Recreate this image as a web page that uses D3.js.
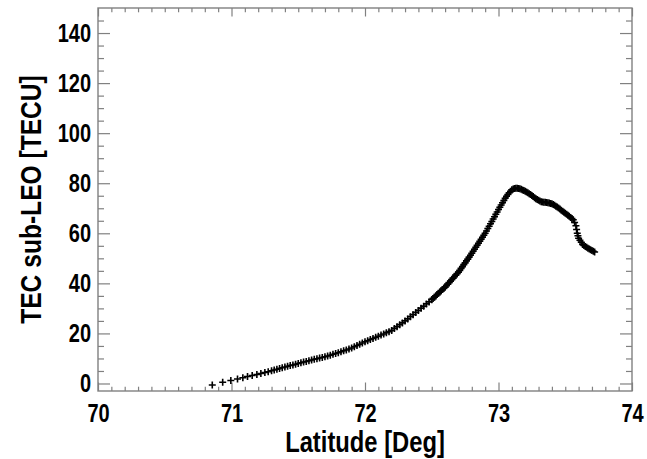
<!DOCTYPE html>
<html>
<head>
<meta charset="utf-8">
<script src="https://cdn.jsdelivr.net/npm/d3@7"></script>
<style>
  html, body { margin: 0; padding: 0; background: #fff; }
  svg { display: block; }
  .tick-label { font-family: "Liberation Sans", Arial, sans-serif; font-weight: bold; font-size: 25px; fill: #000; }
  .axis-title { font-family: "Liberation Sans", Arial, sans-serif; font-weight: bold; font-size: 29px; fill: #000; }
</style>
</head>
<body>
<div id="chart"></div>
<script>
// latitude [deg] of each sample
const latitude = [
  70.856, 70.934, 70.995, 71.045, 71.085, 71.12, 71.155, 71.19, 71.22, 71.25, 71.275,
  71.30, 71.32, 71.34, 71.36, 71.38, 71.40, 71.42, 71.44, 71.46, 71.48,
  71.50, 71.52, 71.54, 71.56, 71.58, 71.60, 71.62, 71.64, 71.66, 71.68,
  71.70, 71.72, 71.74, 71.76, 71.78, 71.80, 71.82, 71.84, 71.86, 71.88,
  71.90, 71.92, 71.94, 71.96, 71.98, 72.00, 72.02, 72.04, 72.06, 72.08,
  72.10, 72.12, 72.14, 72.16, 72.18, 72.20, 72.22, 72.24, 72.26, 72.28,
  72.30, 72.32, 72.34, 72.36, 72.38, 72.40, 72.42, 72.44, 72.46, 72.48,
  72.50, 72.51, 72.52, 72.53, 72.54, 72.55, 72.56, 72.57, 72.58, 72.59,
  72.60, 72.61, 72.62, 72.63, 72.64, 72.65, 72.66, 72.67, 72.68, 72.69,
  72.70, 72.71, 72.72, 72.73, 72.74, 72.75, 72.76, 72.77, 72.78, 72.79,
  72.80, 72.81, 72.82, 72.83, 72.84, 72.85, 72.86, 72.87, 72.88, 72.89,
  72.90, 72.91, 72.92, 72.93, 72.94, 72.95, 72.96, 72.97, 72.98, 72.99,
  73.00, 73.01, 73.02, 73.03, 73.04, 73.05, 73.06, 73.07, 73.08, 73.09,
  73.10, 73.11, 73.12, 73.13, 73.14, 73.15, 73.16, 73.17, 73.18, 73.19,
  73.20, 73.21, 73.22, 73.23, 73.24, 73.25, 73.26, 73.27, 73.28, 73.29,
  73.30, 73.31, 73.32, 73.33, 73.34, 73.35, 73.36, 73.37, 73.38, 73.39,
  73.40, 73.41, 73.42, 73.43, 73.44, 73.45, 73.46, 73.47, 73.48, 73.49,
  73.50, 73.51, 73.52, 73.53, 73.54, 73.55, 73.56, 73.57, 73.58, 73.585,
  73.59, 73.595, 73.60, 73.61, 73.62, 73.63, 73.64, 73.65, 73.66, 73.67,
  73.68, 73.69, 73.70, 73.71, 73.72
];

// TEC sub-LEO [TECU] at those samples
const tec = [
  -0.6, 0.5, 1.2, 1.8, 2.3, 2.8, 3.2, 3.6, 4.0, 4.4, 4.7,
  5.1, 5.4, 5.7, 6.0, 6.3, 6.6, 6.9, 7.2, 7.4, 7.7,
  8.0, 8.3, 8.6, 8.8, 9.1, 9.4, 9.7, 9.9, 10.2, 10.4,
  10.7, 11.0, 11.3, 11.7, 12.0, 12.3, 12.7, 13.1, 13.4, 13.8,
  14.2, 14.7, 15.2, 15.7, 16.2, 16.7, 17.1, 17.6, 18.0, 18.5,
  18.9, 19.4, 19.8, 20.3, 20.7, 21.2, 22.0, 22.7, 23.5, 24.2,
  25.0, 25.8, 26.7, 27.5, 28.4, 29.2, 30.1, 30.9, 31.8, 32.6,
  33.5, 34.0, 34.5, 35.0, 35.5, 36.0, 36.5, 37.0, 37.5, 38.0,
  38.5, 39.1, 39.7, 40.3, 40.9, 41.5, 42.1, 42.7, 43.3, 43.9,
  44.5, 45.2, 46.0, 46.7, 47.5, 48.2, 49.0, 49.7, 50.5, 51.2,
  52.0, 52.8, 53.6, 54.4, 55.2, 56.0, 56.8, 57.6, 58.4, 59.2,
  60.0, 60.9, 61.9, 62.8, 63.8, 64.7, 65.7, 66.6, 67.6, 68.5,
  69.5, 70.4, 71.3, 72.2, 73.1, 74.0, 74.8, 75.5, 76.2, 76.8,
  77.4, 77.7, 77.9, 78.0, 78.0, 77.9, 77.8, 77.6, 77.3, 77.1,
  76.8, 76.5, 76.2, 75.8, 75.5, 75.1, 74.7, 74.2, 73.8, 73.5,
  73.2, 72.9, 72.6, 72.5, 72.4, 72.4, 72.3, 72.2, 72.1, 71.9,
  71.8, 71.5, 71.2, 70.8, 70.5, 70.1, 69.7, 69.2, 68.8, 68.4,
  68.0, 67.6, 67.2, 66.8, 66.3, 65.9, 65.4, 64.3, 63.0, 61.5,
  60.0, 59.0, 58.0, 57.2, 56.4, 55.5, 55.1, 54.7, 54.4, 54.0,
  53.7, 53.4, 53.1, 52.8, 52.5
];

const xMajorTicks = [70, 71, 72, 73, 74];
const yMajorTicks = [0, 20, 40, 60, 80, 100, 120, 140];

const width = 647;
const height = 459;
const plot = { left: 98, right: 632, top: 8, bottom: 391 };
const frameColor = "#808080";
const narrow = 0.8; // no narrow font installed, squeeze Liberation Sans instead

const x = d3.scaleLinear().domain([70, 74]).range([plot.left, plot.right]);
const y = d3.scaleLinear().domain([-3, 150]).range([plot.bottom, plot.top]);

const xMinorTicks = d3.range(701, 740).map((v) => v / 10).filter((v) => v % 1 !== 0);
const yMinorTicks = d3.range(5, 150, 5).filter((v) => v % 20 !== 0);

const svg = d3.select("#chart").append("svg")
  .attr("width", width)
  .attr("height", height)
  .attr("viewBox", `0 0 ${width} ${height}`);

function styleAxis(g) {
  g.select(".domain").remove();
  g.selectAll(".tick line").attr("stroke", frameColor).attr("stroke-width", 1.2);
  g.selectAll(".tick text")
    .attr("class", "tick-label")
    .attr("fill", null)
    .attr("transform", `scale(${narrow},1)`);
}

// bottom axis: major ticks with labels, minor without
svg.append("g")
  .attr("transform", `translate(0,${plot.bottom})`)
  .call(d3.axisBottom(x).tickValues(xMajorTicks).tickSize(-8.5).tickPadding(13).tickFormat(d3.format("d")))
  .call(styleAxis);
svg.append("g")
  .attr("transform", `translate(0,${plot.bottom})`)
  .call(d3.axisBottom(x).tickValues(xMinorTicks).tickSize(-4.3).tickFormat(""))
  .call(styleAxis);

// top axis, ticks only
svg.append("g")
  .attr("transform", `translate(0,${plot.top})`)
  .call(d3.axisTop(x).tickValues(xMajorTicks).tickSize(-8.5).tickFormat(""))
  .call(styleAxis);
svg.append("g")
  .attr("transform", `translate(0,${plot.top})`)
  .call(d3.axisTop(x).tickValues(xMinorTicks).tickSize(-4.3).tickFormat(""))
  .call(styleAxis);

// left axis
svg.append("g")
  .attr("transform", `translate(${plot.left},0)`)
  .call(d3.axisLeft(y).tickValues(yMajorTicks).tickSize(-12).tickPadding(7 / narrow).tickFormat(d3.format("d")))
  .call(styleAxis);
svg.append("g")
  .attr("transform", `translate(${plot.left},0)`)
  .call(d3.axisLeft(y).tickValues(yMinorTicks).tickSize(-6).tickFormat(""))
  .call(styleAxis);

// right axis, ticks only
svg.append("g")
  .attr("transform", `translate(${plot.right},0)`)
  .call(d3.axisRight(y).tickValues(yMajorTicks).tickSize(-12).tickFormat(""))
  .call(styleAxis);
svg.append("g")
  .attr("transform", `translate(${plot.right},0)`)
  .call(d3.axisRight(y).tickValues(yMinorTicks).tickSize(-6).tickFormat(""))
  .call(styleAxis);

// frame
svg.append("rect")
  .attr("x", plot.left)
  .attr("y", plot.top)
  .attr("width", plot.right - plot.left)
  .attr("height", plot.bottom - plot.top)
  .attr("fill", "none")
  .attr("stroke", frameColor)
  .attr("stroke-width", 1.4);

// plus markers
const samples = latitude.map((lat, i) => ({ lat, tec: tec[i] }));
svg.append("g")
  .selectAll("path")
  .data(samples)
  .join("path")
  .attr("transform", (d) => `translate(${x(d.lat)},${y(d.tec)})`)
  .attr("d", "M-3.5,0H3.5M0,-3.5V3.5")
  .attr("stroke", "#000")
  .attr("stroke-width", 1.6)
  .attr("fill", "none");

// axis titles
svg.append("text")
  .attr("class", "axis-title")
  .attr("transform", `translate(${(plot.left + plot.right) / 2},452) scale(0.82,1)`)
  .attr("text-anchor", "middle")
  .text("Latitude [Deg]");

svg.append("text")
  .attr("class", "axis-title")
  .style("font-size", "30px")
  .attr("transform", `translate(41,${(plot.top + plot.bottom) / 2}) rotate(-90) scale(0.82,1)`)
  .attr("text-anchor", "middle")
  .text("TEC sub-LEO [TECU]");
</script>
</body>
</html>
